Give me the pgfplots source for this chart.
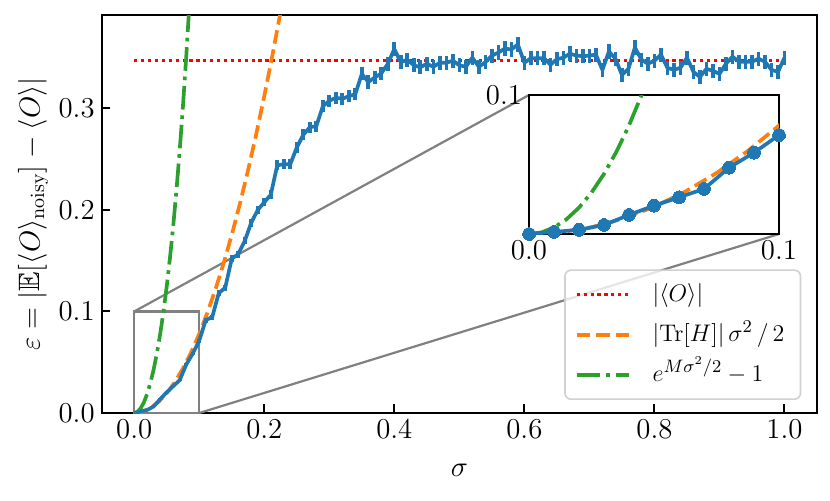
\documentclass[border=0pt]{standalone}
\usepackage{amssymb}
\usepackage{pgfplots}
\pgfplotsset{compat=1.18}
\usepackage{pgfplotstable}
\definecolor{mplblue}{HTML}{1F77B4}
\definecolor{mplorange}{HTML}{FF7F0E}
\definecolor{mplgreen}{HTML}{2CA02C}
\definecolor{mplgray}{gray}{0.5}

\pgfplotstableread{
s v e
0.00 0.0000 0.0000
0.01 0.0015 0.0003
0.02 0.0030 0.0005
0.03 0.0065 0.0007
0.04 0.0137 0.0008
0.05 0.0204 0.0010
0.06 0.0264 0.0012
0.07 0.0324 0.0013
0.08 0.0477 0.0015
0.09 0.0585 0.0017
0.10 0.0712 0.0020
0.11 0.0915 0.0025
0.12 0.0945 0.0025
0.13 0.1180 0.0030
0.14 0.1235 0.0030
0.15 0.1520 0.0035
0.16 0.1565 0.0035
0.17 0.1695 0.0035
0.18 0.1875 0.0040
0.19 0.2000 0.0040
0.20 0.2075 0.0040
0.21 0.2150 0.0045
0.22 0.2440 0.0050
0.23 0.2450 0.0050
0.24 0.2450 0.0050
0.25 0.2615 0.0050
0.26 0.2740 0.0055
0.27 0.2815 0.0055
0.28 0.2825 0.0055
0.29 0.3020 0.0060
0.30 0.3075 0.0060
0.31 0.3105 0.0060
0.32 0.3095 0.0060
0.33 0.3120 0.0060
0.34 0.3140 0.0060
0.35 0.3340 0.0065
0.36 0.3260 0.0065
0.37 0.3305 0.0065
0.38 0.3345 0.0065
0.39 0.3440 0.0070
0.40 0.3585 0.0070
0.41 0.3455 0.0070
0.42 0.3480 0.0070
0.43 0.3425 0.0070
0.44 0.3405 0.0070
0.45 0.3440 0.0070
0.46 0.3410 0.0070
0.47 0.3450 0.0070
0.48 0.3450 0.0070
0.49 0.3470 0.0070
0.50 0.3425 0.0070
0.51 0.3410 0.0070
0.52 0.3500 0.0070
0.53 0.3410 0.0070
0.54 0.3455 0.0070
0.55 0.3520 0.0070
0.56 0.3550 0.0070
0.57 0.3590 0.0070
0.58 0.3580 0.0070
0.59 0.3630 0.0070
0.60 0.3450 0.0070
0.61 0.3495 0.0070
0.62 0.3495 0.0070
0.63 0.3495 0.0070
0.64 0.3430 0.0070
0.65 0.3485 0.0070
0.66 0.3500 0.0070
0.67 0.3540 0.0070
0.68 0.3520 0.0070
0.69 0.3515 0.0070
0.70 0.3520 0.0070
0.71 0.3530 0.0070
0.72 0.3380 0.0070
0.73 0.3560 0.0070
0.74 0.3490 0.0070
0.75 0.3330 0.0070
0.76 0.3390 0.0070
0.77 0.3600 0.0070
0.78 0.3480 0.0070
0.79 0.3440 0.0070
0.80 0.3470 0.0070
0.81 0.3530 0.0070
0.82 0.3400 0.0070
0.83 0.3380 0.0070
0.84 0.3400 0.0070
0.85 0.3500 0.0070
0.86 0.3360 0.0070
0.87 0.3310 0.0070
0.88 0.3390 0.0070
0.89 0.3370 0.0070
0.90 0.3340 0.0070
0.91 0.3440 0.0070
0.92 0.3510 0.0070
0.93 0.3460 0.0070
0.94 0.3460 0.0070
0.95 0.3460 0.0070
0.96 0.3490 0.0070
0.97 0.3460 0.0070
0.98 0.3380 0.0070
0.99 0.3360 0.0070
1.00 0.3500 0.0070
}\datatab

\pgfplotstableread{
s v
0.0000 0.000000
0.0125 0.001219
0.0250 0.004875
0.0375 0.010969
0.0500 0.019500
0.0625 0.030469
0.0750 0.043875
0.0875 0.059719
0.1000 0.078000
0.1125 0.098719
0.1250 0.121875
0.1375 0.147469
0.1500 0.175500
0.1625 0.205969
0.1750 0.238875
0.1875 0.274219
0.2000 0.312000
0.2125 0.352219
0.2250 0.394875
}\orangetab

\pgfplotstableread{
s v
0.000 0.000000
0.005 0.001176
0.010 0.004711
0.015 0.010631
0.020 0.018978
0.025 0.029811
0.030 0.043207
0.035 0.059265
0.040 0.078100
0.045 0.099851
0.050 0.124682
0.055 0.152780
0.060 0.184363
0.065 0.219674
0.070 0.258989
0.075 0.302617
0.080 0.350924
0.085 0.404334
}\greentab

\pgfplotsset{
  mplstyle/.style={
    scale only axis,
    tick align=inside,
    tick pos=left,
    major tick length=4.3pt,
    major tick style={line width=1pt, black},
    axis line style={line width=1pt},
    tick label style={font=\fontsize{14.7}{17}\selectfont},
    label style={font=\fontsize{14.7}{17}\selectfont},
    /pgf/number format/.cd, fixed, fixed zerofill, precision=1,
  },
  orangestyle/.style={mplorange, line width=1.84pt, dash pattern=on 6.8pt off 2.9pt},
  greenstyle/.style={mplgreen, line width=1.84pt, dash pattern=on 11.8pt off 2.9pt on 1.84pt off 2.9pt},
}

\begin{document}
\begin{tikzpicture}
\path (0pt,0pt) rectangle (415pt,250pt);
\begin{axis}[
  mplstyle,
  name=main,
  at={(50.85pt,43.5pt)}, anchor=south west,
  width=357.65pt, height=199pt,
  xmin=-0.05, xmax=1.05, ymin=0, ymax=0.392,
  xtick={0,0.2,0.4,0.6,0.8,1.0},
  ytick={0,0.1,0.2,0.3},
  xlabel={$\sigma$},
  ylabel={$\varepsilon = |\mathbb{E}[\langle O\rangle_{\mathrm{noisy}}] - \langle O\rangle|$},
  xlabel style={at={(axis description cs:0.5,-0.143)}, anchor=center},
  ylabel style={at={(axis description cs:-0.096,0.5)}, anchor=center, rotate=0},
  legend cell align=left,
  legend image code/.code={\draw[#1] (0pt,0pt) -- (26pt,0pt);},
  legend style={
    at={(0.978,0.0327)}, anchor=south east,
    draw=black!18, line width=0.8pt, rounded corners=3pt,
    fill=white, fill opacity=0.8, text opacity=1,
    font=\fontsize{13}{15}\selectfont,
    inner xsep=5pt, inner ysep=3pt,
    row sep=1.5pt,
    nodes={text height=9.5pt, text depth=3pt, inner sep=3pt},
    /tikz/every odd column/.append style={column sep=8pt},
  },
]
\draw[mplgray, line width=1.1pt] (axis cs:0,0) rectangle (axis cs:0.1,0.1);
\draw[mplgray, line width=1.1pt] (axis cs:0,0.1) -- (axis cs:0.6071,0.3132);
\draw[mplgray, line width=1.1pt] (axis cs:0.1,0) -- (axis cs:0.9916,0.1763);

\addplot[red, line width=1.6pt, dash pattern=on 1.6pt off 1.85pt] coordinates {(0,0.347) (1,0.347)};
\addlegendentry{$|\langle O\rangle|$}
\addplot[orangestyle] table[x=s,y=v] {\orangetab};
\addlegendentry{$|\mathrm{Tr}[H]|\,\sigma^2\,/\,2$}
\addplot[greenstyle] table[x=s,y=v] {\greentab};
\addlegendentry{$e^{M\sigma^2/2}-1$}
\addplot[mplblue, line width=1.84pt, line join=round, no markers, forget plot,
  error bars/.cd, y dir=both, y explicit, error mark=none,
  error bar style={line width=1.84pt, mplblue}]
  table[x=s,y=v,y error=e] {\datatab};
\end{axis}

\begin{axis}[
  mplstyle,
  name=inset,
  at={(264.5pt,133pt)}, anchor=south west,
  width=125pt, height=69.5pt,
  xmin=0, xmax=0.1, ymin=0, ymax=0.1,
  xtick={0,0.1}, ytick={0.1},
  axis background/.style={fill=white},
]
\addplot[orangestyle] table[x=s,y=v] {\orangetab};
\addplot[greenstyle] table[x=s,y=v] {\greentab};
\addplot[mplblue, line width=1.84pt, line join=round, mark=*, mark size=3.2pt,
  mark options={solid, fill=mplblue, draw=mplblue, line width=0pt},
  skip coords between index={11}{200}]
  table[x=s,y=v] {\datatab};
\end{axis}
\end{tikzpicture}
\end{document}
